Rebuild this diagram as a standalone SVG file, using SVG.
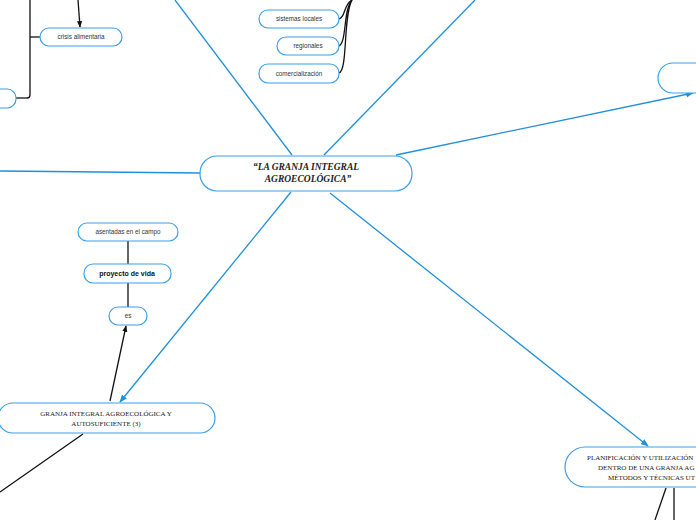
<svg xmlns="http://www.w3.org/2000/svg" width="696" height="520" viewBox="0 0 696 520">
<style>
.n{fill:#fff;stroke:#3a9fe6;stroke-width:1.2}
.b{stroke:#1e90dc;stroke-width:1.3;fill:none}
.k{stroke:#111;stroke-width:1.3;fill:none}
.s{font-family:"Liberation Sans","DejaVu Sans",sans-serif;font-size:6.3px;fill:#333;text-anchor:middle}
.sb{font-family:"Liberation Sans","DejaVu Sans",sans-serif;font-size:7px;font-weight:bold;fill:#111;text-anchor:middle}
.sf{font-family:"Liberation Serif","DejaVu Serif",serif;font-size:7px;fill:#222}
.c{font-family:"Liberation Serif","DejaVu Serif",serif;font-size:9.5px;font-weight:bold;font-style:italic;fill:#222;text-anchor:middle}
</style>
<defs>
<marker id="ab" viewBox="0 0 10 10" refX="9" refY="5" markerWidth="6" markerHeight="6" orient="auto"><path d="M0,1 L10,5 L0,9 Z" fill="#1e90dc"/></marker>
<marker id="ak" viewBox="0 0 10 10" refX="9" refY="5" markerWidth="5" markerHeight="5" orient="auto"><path d="M0,1 L10,5 L0,9 Z" fill="#111"/></marker>
</defs>
<rect width="696" height="520" fill="#fff"/>
<g id="connectors">
<line class="b" x1="292" y1="155" x2="175" y2="0"/>
<line class="b" x1="324" y1="155" x2="475" y2="0"/>
<line class="b" x1="396" y1="155" x2="693" y2="93" marker-end="url(#ab)"/>
<line class="b" x1="200" y1="173" x2="0" y2="171"/>
<line class="b" x1="291" y1="192" x2="120" y2="402" marker-end="url(#ab)"/>
<line class="b" x1="330" y1="193" x2="648" y2="446" marker-end="url(#ab)"/>
<line class="k" x1="78" y1="0" x2="80" y2="27" marker-end="url(#ak)"/>
<path class="k" d="M30,0 L30,95 Q30,98 27,98 L16,98" stroke="#111"/>
<path d="M16,98 L27,98" stroke="#777" stroke-width="1.3"/>
<line class="k" x1="30" y1="37" x2="40" y2="37"/>
<path class="k" stroke-width="1.8" d="M339,19 C346,17 343,5 352,0"/>
<path class="k" stroke-width="1.8" d="M339,46 C347,42 343,10 352,0"/>
<path class="k" stroke-width="1.8" d="M339,73 C348,70 343,15 352,0"/>
<line class="k" x1="128" y1="241" x2="128" y2="264"/>
<line class="k" x1="128" y1="283" x2="128" y2="307"/>
<line class="k" x1="110" y1="401" x2="126" y2="326" marker-end="url(#ak)"/>
<line class="k" x1="83" y1="434" x2="0" y2="492"/>
<line class="k" x1="666" y1="488" x2="655" y2="520"/>
<line class="k" x1="674" y1="488" x2="674" y2="520"/>
</g>
<g id="central"><rect class="n" x="200" y="156" width="212" height="35" rx="17"/>
<text class="c" x="306" y="170">“LA GRANJA INTEGRAL</text>
<text class="c" x="308" y="182">AGROECOLÓGICA”</text></g>
<g id="n-right"><rect class="n" x="658" y="63" width="60" height="30" rx="15"/></g>
<g id="n-crisis"><rect class="n" x="40" y="28" width="82" height="18" rx="9"/><text class="s" x="81" y="39">crisis alimentaria</text></g>
<g id="n-left"><rect class="n" x="-30" y="89" width="46" height="19" rx="9"/></g>
<g id="n-sistemas"><rect class="n" x="259" y="10" width="80" height="18" rx="9"/><text class="s" x="299" y="21">sistemas locales</text></g>
<g id="n-regionales"><rect class="n" x="277" y="37" width="62" height="18" rx="9"/><text class="s" x="308" y="48">regionales</text></g>
<g id="n-comercializacion"><rect class="n" x="259" y="64" width="80" height="19" rx="9"/><text class="s" x="299" y="76">comercialización</text></g>
<g id="n-asentadas"><rect class="n" x="78" y="223" width="100" height="18" rx="9"/><text class="s" x="128" y="234">asentadas en el campo</text></g>
<g id="n-proyecto"><rect class="n" x="84" y="264" width="87" height="19" rx="9"/><text class="sb" x="127" y="276">proyecto de vida</text></g>
<g id="n-es"><rect class="n" x="109" y="307" width="38" height="18" rx="9"/><text class="s" x="128" y="318">es</text></g>
<g id="n-granja"><rect class="n" x="-2" y="403" width="217" height="30" rx="15"/>
<text class="sf" x="106" y="416" text-anchor="middle">GRANJA INTEGRAL AGROECOLÓGICA Y</text>
<text class="sf" x="106" y="426" text-anchor="middle">AUTOSUFICIENTE (3)</text></g>
<g id="n-planificacion"><rect class="n" x="565" y="447" width="160" height="40" rx="20"/>
<text class="sf" x="587" y="460">PLANIFICACIÓN Y UTILIZACIÓN</text>
<text class="sf" x="598" y="470">DENTRO DE UNA GRANJA AG</text>
<text class="sf" x="608" y="480">MÉTODOS Y TÉCNICAS UT</text></g>
</svg>
